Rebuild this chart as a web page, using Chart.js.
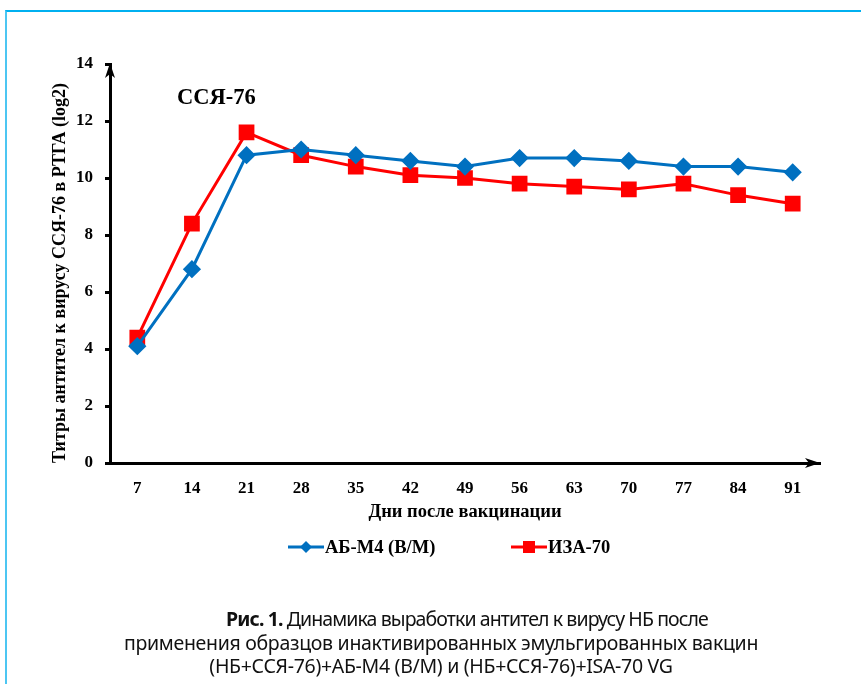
<!DOCTYPE html>
<html lang="ru">
<head>
  <meta charset="UTF-8">
  <title>ССЯ-76</title>
  <script src="https://cdn.jsdelivr.net/npm/chart.js"></script>
  <style>
    html, body { margin: 0; padding: 0; background: #fff; }
    .page { position: relative; width: 861px; height: 684px; overflow: hidden; }
    .frame {
      position: absolute; left: 5px; top: 10px; width: 900px; height: 700px;
      border-top: 2px solid #00b0f0; border-left: 2px solid #4cc6f2;
    }
    .chart-box { position: absolute; left: 0; top: 0; width: 861px; height: 684px; }
    .caption {
      position: absolute; left: 0; width: 882px; top: 607px;
      text-align: center; font-family: "Noto Sans", sans-serif;
      font-size: 19.5px; line-height: 23.5px; color: #111; letter-spacing: -0.3px;
    }
    .caption b { font-weight: bold; }
  </style>
</head>
<body>
  <div class="page">
    <div class="frame"></div>
    <div class="chart-box"><canvas id="titersChart"></canvas></div>
    <div class="caption">
      <div style="padding-left:52px; letter-spacing:-0.9px"><b>Рис. 1.</b> Динамика выработки антител к вирусу НБ после</div>
      <div>применения образцов инактивированных эмульгированных вакцин</div>
      <div>(НБ+ССЯ-76)+АБ-М4 (В/М) и (НБ+ССЯ-76)+ISA-70 VG</div>
    </div>
  </div>

  <script>
    // Данные графика
    const days = ['7', '14', '21', '28', '35', '42', '49', '56', '63', '70', '77', '84', '91'];
    const abM4 = [4.1, 6.8, 10.8, 11.0, 10.8, 10.6, 10.4, 10.7, 10.7, 10.6, 10.4, 10.4, 10.2];
    const isa70 = [4.4, 8.4, 11.6, 10.8, 10.4, 10.1, 10.0, 9.8, 9.7, 9.6, 9.8, 9.4, 9.1];
    const seriesNames = ['АБ-М4 (В/М)', 'ИЗА-70'];

    const serif = "'Liberation Serif', 'Times New Roman', serif";

    // Стрелки осей, подпись ССЯ-76 и легенда
    const decorPlugin = {
      id: 'decor',
      afterDraw(chart) {
        const ctx = chart.ctx;
        const a = chart.chartArea;
        ctx.save();
        ctx.fillStyle = '#000';
        // стрелка оси Y
        ctx.beginPath();
        ctx.moveTo(a.left, a.top - 1);
        ctx.lineTo(a.left - 5, a.top + 14);
        ctx.lineTo(a.left, a.top + 10);
        ctx.lineTo(a.left + 5, a.top + 14);
        ctx.closePath();
        ctx.fill();
        // стрелка оси X
        ctx.beginPath();
        ctx.moveTo(a.right, a.bottom);
        ctx.lineTo(a.right - 15, a.bottom - 5);
        ctx.lineTo(a.right - 11, a.bottom);
        ctx.lineTo(a.right - 15, a.bottom + 5);
        ctx.closePath();
        ctx.fill();

        ctx.font = 'bold 22.5px ' + serif;
        ctx.textBaseline = 'middle';
        ctx.fillText('ССЯ-76', 177, 98);

        // легенда
        const items = [
          { x: 288, ds: chart.data.datasets[0] },
          { x: 511, ds: chart.data.datasets[1] }
        ];
        const ly = 547;
        ctx.font = 'bold 18.5px ' + serif;
        items.forEach(it => {
          ctx.strokeStyle = it.ds.borderColor;
          ctx.lineWidth = 3;
          ctx.beginPath();
          ctx.moveTo(it.x, ly);
          ctx.lineTo(it.x + 36, ly);
          ctx.stroke();
          ctx.fillStyle = it.ds.borderColor;
          if (it.ds.pointStyle === 'rectRot') {
            ctx.beginPath();
            ctx.moveTo(it.x + 18, ly - 6);
            ctx.lineTo(it.x + 24, ly);
            ctx.lineTo(it.x + 18, ly + 6);
            ctx.lineTo(it.x + 12, ly);
            ctx.closePath();
            ctx.fill();
          } else {
            ctx.fillRect(it.x + 12, ly - 6, 12, 12);
          }
          ctx.fillStyle = '#000';
          ctx.fillText(it.ds.label, it.x + 37, ly + 1);
        });
        ctx.restore();
      }
    };

    const ctx = document.getElementById('titersChart').getContext('2d');
    new Chart(ctx, {
      type: 'line',
      data: {
        labels: days,
        datasets: [{
          label: seriesNames[0],
          data: abM4,
          borderColor: '#0070c0',
          backgroundColor: '#0070c0',
          borderWidth: 3,
          pointStyle: 'rectRot',
          pointRadius: 7,
          pointHoverRadius: 7,
          tension: 0
        }, {
          label: seriesNames[1],
          data: isa70,
          borderColor: '#ff0000',
          backgroundColor: '#ff0000',
          borderWidth: 3,
          pointStyle: 'rect',
          pointRadius: 9,
          pointHoverRadius: 9,
          tension: 0
        }]
      },
      options: {
        responsive: true,
        maintainAspectRatio: false,
        animation: false,
        layout: { padding: { left: 50, right: 41, top: 64, bottom: 161 } },
        plugins: {
          legend: { display: false },
          tooltip: { enabled: false }
        },
        scales: {
          x: {
            offset: true,
            grid: { display: false },
            border: { display: true, color: '#000', width: 3 },
            ticks: { color: '#000', padding: 7, font: { family: serif, size: 17, weight: 'bold' } },
            title: {
              display: true, text: 'Дни после вакцинации', color: '#000',
              padding: 0, font: { family: serif, size: 18.5, weight: 'bold' }
            },
            afterFit(scale) { scale.height = 60; }
          },
          y: {
            min: 0, max: 14,
            grid: { drawOnChartArea: false, drawTicks: true, tickLength: 5, tickWidth: 3, color: '#000' },
            border: { display: true, color: '#000', width: 3 },
            ticks: { stepSize: 2, color: '#000', padding: 12, font: { family: serif, size: 17, weight: 'bold' } },
            title: {
              display: true, align: 'start', text: 'Титры антител к вирусу ССЯ-76 в РТГА (log2)', color: '#000',
              padding: 0, font: { family: serif, size: 18, weight: 'bold' }
            },
            afterFit(scale) { scale.width = 60; }
          }
        }
      },
      plugins: [decorPlugin]
    });
  </script>
</body>
</html>
